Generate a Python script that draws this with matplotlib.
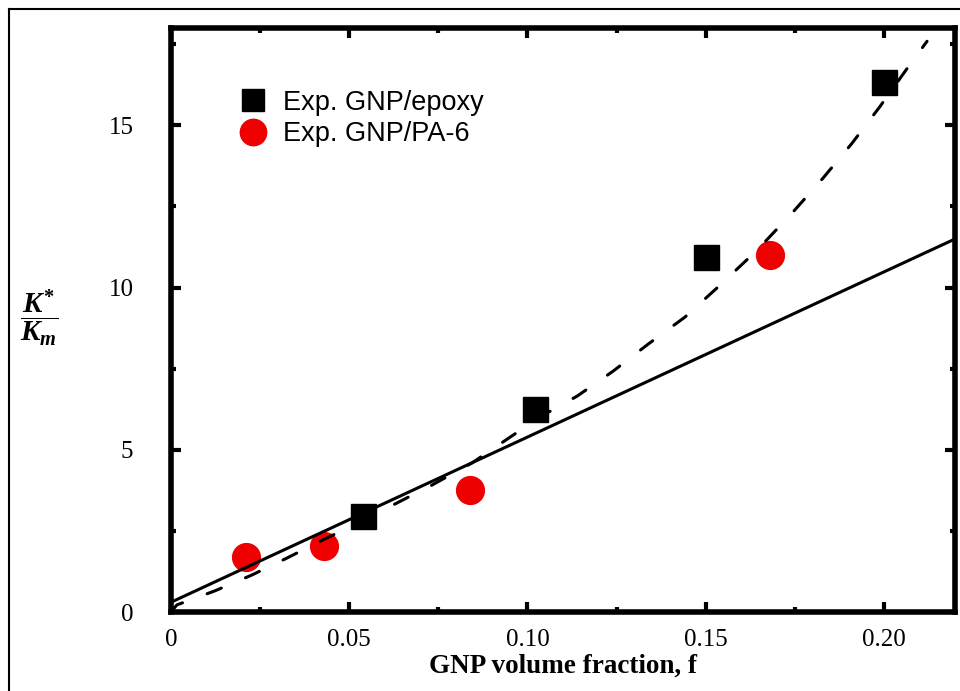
import matplotlib
matplotlib.use("Agg")
import matplotlib.pyplot as plt
from matplotlib.lines import Line2D
from matplotlib.ticker import MultipleLocator, FixedFormatter, FixedLocator

# Experimental points
f_epoxy = [0.054, 0.102, 0.150, 0.200]
k_epoxy = [2.95, 6.25, 10.95, 16.35]
f_pa6 = [0.021, 0.043, 0.084, 0.168]
k_pa6 = [1.70, 2.05, 3.75, 11.0]

# Model curves
f_linear = [0.0, 0.22]
k_linear = [0.3, 11.5]
f_dashed = [0.0, 0.0017, 0.0123, 0.0227, 0.0325, 0.0426, 0.0530, 0.0634, 0.0732,
            0.0844, 0.1035, 0.1139, 0.1240, 0.1338, 0.1442, 0.1540, 0.1644,
            0.1742, 0.1829, 0.1910, 0.1989, 0.2065, 0.2121]
k_dashed = [0.0, 0.22, 0.65, 1.14, 1.66, 2.22, 2.77, 3.36, 3.91,
            4.59, 6.01, 6.65, 7.42, 8.25, 9.09, 10.07, 11.15,
            12.29, 13.37, 14.44, 15.58, 16.75, 17.59]

x_ticks = [0, 0.05, 0.10, 0.15, 0.20]
x_labels = ["0", "0.05", "0.10", "0.15", "0.20"]
y_ticks = [0, 5, 10, 15]
y_labels = ["0", "5", "10", "15"]

plt.rcParams["mathtext.fontset"] = "custom"
plt.rcParams["mathtext.it"] = "Liberation Serif:italic:bold"
plt.rcParams["mathtext.rm"] = "Liberation Serif:bold"

fig = plt.figure(figsize=(9.6, 6.91), dpi=100)
ax = fig.add_axes([0.178, 0.1143, 0.817, 0.8452])

ax.plot(f_epoxy, k_epoxy, "s", color="black", markersize=18, zorder=2)
ax.plot(f_pa6, k_pa6, "o", color="#ee0000", markersize=20, zorder=2)
ax.plot(f_linear, k_linear, "-", color="black", lw=2.2, zorder=3)
dash, = ax.plot(f_dashed, k_dashed, color="black", lw=2.2, zorder=3,
                dash_capstyle="round")
dash.set_dashes([5.0, 8.6])

ax.set_xlim(0, 0.22)
ax.set_ylim(0, 18)
ax.xaxis.set_major_locator(FixedLocator(x_ticks))
ax.xaxis.set_major_formatter(FixedFormatter(x_labels))
ax.xaxis.set_minor_locator(MultipleLocator(0.025))
ax.yaxis.set_major_locator(FixedLocator(y_ticks))
ax.yaxis.set_major_formatter(FixedFormatter(y_labels))
ax.yaxis.set_minor_locator(MultipleLocator(2.5))

ax.tick_params(which="both", direction="in", top=True, right=True, width=3)
ax.tick_params(which="major", length=7)
ax.tick_params(which="minor", length=3.5)
ax.tick_params(axis="x", which="major", pad=12)
ax.tick_params(axis="y", which="major", pad=27)
for lab in ax.get_xticklabels() + ax.get_yticklabels():
    lab.set_fontfamily("Liberation Serif")
    lab.set_fontsize(18)

for sp in ax.spines.values():
    sp.set_linewidth(4)

ax.set_xlabel("GNP volume fraction, f", fontfamily="Liberation Serif",
              fontweight="bold", fontsize=19.5, labelpad=2)
fig.text(39 / 960, 1 - 318 / 691, r"$\dfrac{K^{*}}{K_{m}}$", fontsize=21,
         ha="center", va="center")

handles = [
    Line2D([], [], ls="none", marker="s", color="black", markersize=16),
    Line2D([], [], ls="none", marker="o", color="#ee0000", markersize=19),
]
ax.legend(handles, ["Exp. GNP/epoxy", "Exp. GNP/PA-6"], loc="upper left",
          bbox_to_anchor=(0.056, 0.936), frameon=False, handletextpad=0.63,
          handlelength=1.0, labelspacing=0.2,
          prop={"family": "Liberation Sans", "size": 19.5})

# frame around the figure
fig.add_artist(Line2D([9 / 960, 9 / 960], [0, 1 - 9 / 691], color="black",
                      lw=1.5, transform=fig.transFigure))
fig.add_artist(Line2D([9 / 960, 1], [1 - 9 / 691, 1 - 9 / 691], color="black",
                      lw=1.5, transform=fig.transFigure))

fig.savefig("out.png", dpi=100)
